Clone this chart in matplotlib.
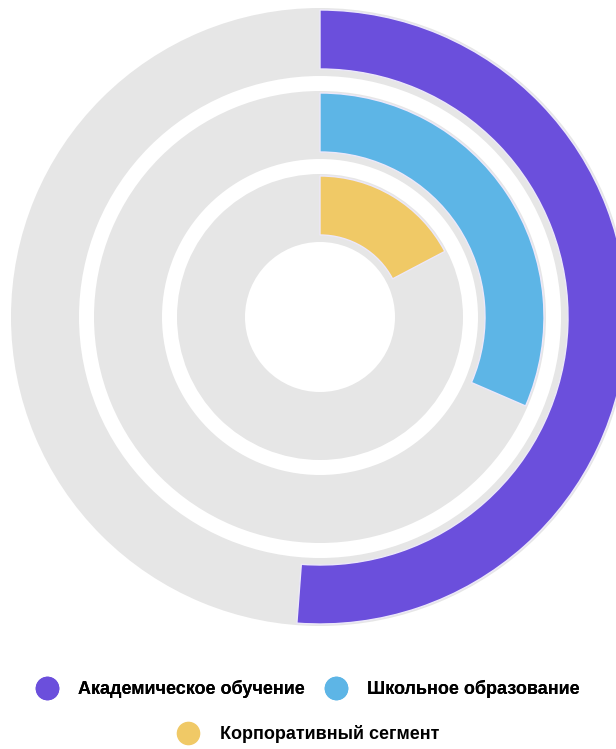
import numpy as np
import matplotlib.pyplot as plt
from matplotlib.lines import Line2D

plt.rcParams['font.family'] = ['Liberation Sans', 'DejaVu Sans']

labels = ['Академическое обучение', 'Школьное образование', 'Корпоративный сегмент']
values = [51.2, 31.5, 17.3]   # percent of full circle
colors = ['#6B4FDC', '#5DB5E6', '#F0C966']
track = '#E6E6E6'

fig = plt.figure(figsize=(6.16, 7.49), dpi=100)
# polar axes, 1 data unit ~ 1 px, centre at (320, 317) px
ax = fig.add_axes([10 / 616, 122 / 749, 620 / 616, 620 / 749], projection='polar')
ax.set_theta_zero_location('N')
ax.set_theta_direction(-1)

hole, w, gap = 75, 68, 15
pad_in, pad_out = 7, 2
for i, (v, c) in enumerate(zip(values, colors)):
    r0 = hole + (2 - i) * (w + gap)   # first series on the outer ring
    ax.bar(0, w, width=2 * np.pi, bottom=r0, align='edge', color=track, linewidth=0)
    ax.bar(0, w - pad_in - pad_out, width=v / 100 * 2 * np.pi, bottom=r0 + pad_in,
           align='edge', color=c, edgecolor='#ECE8FA', linewidth=1)

ax.set_ylim(0, 310)
ax.set_axis_off()

def handle(c):
    return Line2D([], [], marker='o', linestyle='', markersize=16,
                  markerfacecolor=c, markeredgecolor=c)

opts = dict(loc='center', frameon=False, prop={'weight': 'bold', 'size': 13},
            handletextpad=1.1, handlelength=1.25, borderpad=0)
leg1 = fig.legend([handle(c) for c in colors[:2]], labels[:2], ncol=2,
                  bbox_to_anchor=(0.5, 1 - 689 / 749), columnspacing=1.1, **opts)
fig.add_artist(leg1)
fig.legend([handle(colors[2])], labels[2:], bbox_to_anchor=(0.5, 1 - 734 / 749), **opts)

fig.savefig('out.png', dpi=100)
